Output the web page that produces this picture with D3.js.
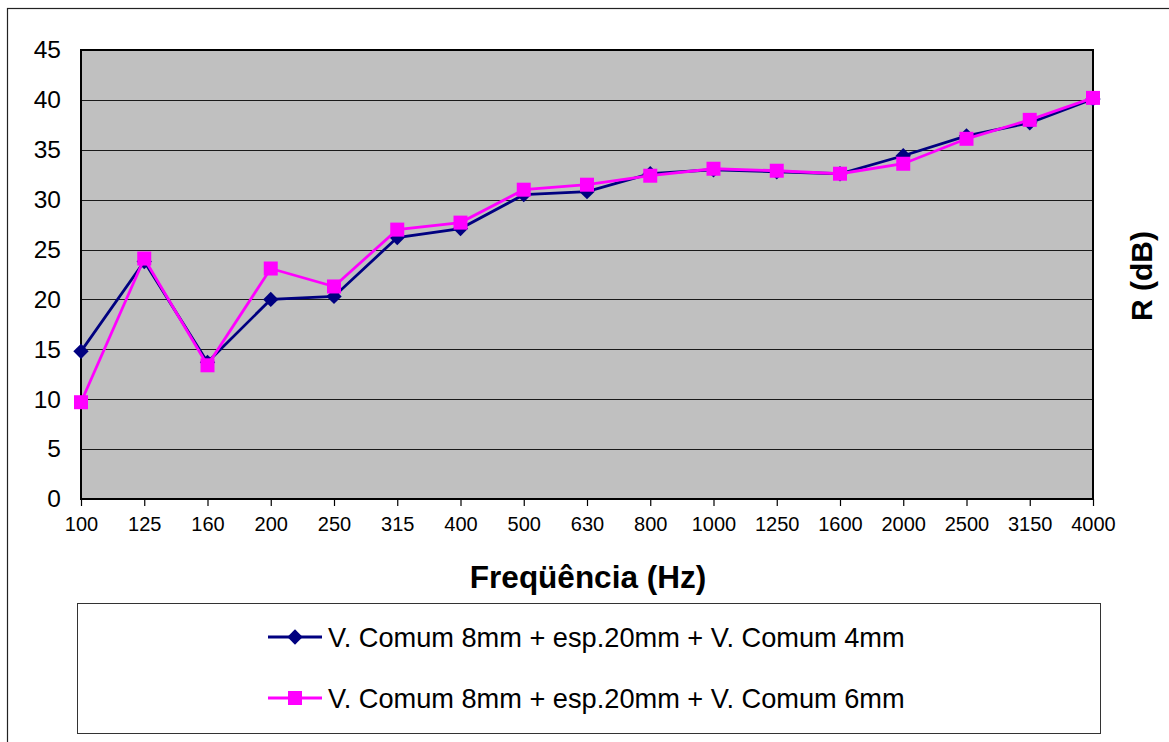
<!DOCTYPE html>
<html>
<head>
<meta charset="utf-8">
<script src="https://d3js.org/d3.v7.min.js"></script>
<style>
  body { margin: 0; background: #fff; }
  svg { display: block; font-family: "Liberation Sans", Arial, sans-serif; }
</style>
</head>
<body>
<div id="chart"></div>
<script>
  // frequency bands (Hz) and sound reduction index R (dB)
  var freqs = ["100", "125", "160", "200", "250", "315", "400", "500", "630",
               "800", "1000", "1250", "1600", "2000", "2500", "3150", "4000"];
  var vidro4mm = [14.8, 23.8, 13.7, 20.0, 20.3, 26.2, 27.1, 30.5, 30.8,
                  32.6, 33.0, 32.8, 32.6, 34.4, 36.4, 37.7, 40.1];
  var vidro6mm = [9.7, 24.1, 13.4, 23.1, 21.3, 27.0, 27.7, 31.0, 31.5,
                  32.4, 33.1, 32.9, 32.6, 33.6, 36.1, 38.0, 40.2];
  var yTicks = [0, 5, 10, 15, 20, 25, 30, 35, 40, 45];
  var seriesNames = ["V. Comum 8mm + esp.20mm + V. Comum 4mm",
                     "V. Comum 8mm + esp.20mm + V. Comum 6mm"];

  var W = 1169, H = 742;
  var plot = { left: 81, top: 50, right: 1093, bottom: 499 };

  var svg = d3.select("#chart").append("svg")
      .attr("width", W)
      .attr("height", H);

  // outer chart frame
  svg.append("rect")
      .attr("x", 7.5).attr("y", 8.5)
      .attr("width", W + 20).attr("height", H + 20)
      .attr("fill", "#fff")
      .attr("stroke", "#222")
      .attr("stroke-width", 1.2);

  var x = d3.scalePoint()
      .domain(freqs)
      .range([plot.left, plot.right])
      .padding(0);

  var y = d3.scaleLinear()
      .domain([0, 45])
      .range([plot.bottom, plot.top]);

  // plot area background
  svg.append("rect")
      .attr("x", plot.left).attr("y", plot.top)
      .attr("width", plot.right - plot.left)
      .attr("height", plot.bottom - plot.top)
      .attr("fill", "#c0c0c0");

  // horizontal gridlines
  svg.append("g")
    .selectAll("line")
    .data(yTicks.filter(function (d) { return d > 0 && d < 45; }))
    .enter().append("line")
      .attr("x1", plot.left).attr("x2", plot.right)
      .attr("y1", function (d) { return Math.round(y(d)) + 0.5; })
      .attr("y2", function (d) { return Math.round(y(d)) + 0.5; })
      .attr("stroke", "#1a1a1a")
      .attr("stroke-width", 1);

  // plot border
  svg.append("rect")
      .attr("x", plot.left).attr("y", plot.top)
      .attr("width", plot.right - plot.left)
      .attr("height", plot.bottom - plot.top)
      .attr("fill", "none")
      .attr("stroke", "#000")
      .attr("stroke-width", 2);

  // x axis ticks and labels
  var xAxis = svg.append("g")
      .attr("transform", "translate(0," + plot.bottom + ")")
      .call(d3.axisBottom(x).tickSize(7).tickPadding(11));
  xAxis.select(".domain").remove();
  xAxis.selectAll(".tick line").attr("stroke", "#000").attr("stroke-width", 1.2);
  xAxis.selectAll(".tick text")
      .attr("font-size", "20px")
      .attr("font-family", "Liberation Sans, Arial, sans-serif")
      .attr("fill", "#000");

  // y axis labels
  var yAxis = svg.append("g")
      .attr("transform", "translate(" + plot.left + ",0)")
      .call(d3.axisLeft(y).tickValues(yTicks).tickSize(0).tickPadding(20));
  yAxis.select(".domain").remove();
  yAxis.selectAll(".tick text")
      .attr("font-size", "24.5px")
      .attr("font-family", "Liberation Sans, Arial, sans-serif")
      .attr("fill", "#000");

  // axis titles
  svg.append("text")
      .attr("x", 588).attr("y", 588)
      .attr("text-anchor", "middle")
      .attr("font-size", "31.5px")
      .attr("font-weight", "bold")
      .text("Freqüência (Hz)");

  svg.append("text")
      .attr("transform", "translate(1152,276) rotate(-90)")
      .attr("text-anchor", "middle")
      .attr("font-size", "30px")
      .attr("font-weight", "bold")
      .text("R (dB)");

  var line = d3.line()
      .x(function (d, i) { return x(freqs[i]); })
      .y(function (d) { return y(d); });

  var diamond = d3.symbol().type(d3.symbolDiamond2).size(150);

  // series 1: navy with diamonds
  svg.append("path")
      .datum(vidro4mm)
      .attr("d", line)
      .attr("fill", "none")
      .attr("stroke", "#000080")
      .attr("stroke-width", 2.8);
  svg.append("g")
    .selectAll("path")
    .data(vidro4mm)
    .enter().append("path")
      .attr("d", diamond)
      .attr("transform", function (d, i) { return "translate(" + x(freqs[i]) + "," + y(d) + ")"; })
      .attr("fill", "#000080");

  // series 2: magenta with squares
  svg.append("path")
      .datum(vidro6mm)
      .attr("d", line)
      .attr("fill", "none")
      .attr("stroke", "#ff00ff")
      .attr("stroke-width", 2.8);
  svg.append("g")
    .selectAll("rect")
    .data(vidro6mm)
    .enter().append("rect")
      .attr("x", function (d, i) { return x(freqs[i]) - 7; })
      .attr("y", function (d) { return y(d) - 7; })
      .attr("width", 14).attr("height", 14)
      .attr("fill", "#ff00ff");

  // legend
  var legend = svg.append("g");
  legend.append("rect")
      .attr("x", 77.5).attr("y", 603.5)
      .attr("width", 1023).attr("height", 130)
      .attr("fill", "#fff")
      .attr("stroke", "#333")
      .attr("stroke-width", 1);

  var legendRows = [
    { name: seriesNames[0], color: "#000080", marker: "diamond", y: 637 },
    { name: seriesNames[1], color: "#ff00ff", marker: "square", y: 698 }
  ];

  legendRows.forEach(function (r) {
    legend.append("line")
        .attr("x1", 268).attr("x2", 322)
        .attr("y1", r.y).attr("y2", r.y)
        .attr("stroke", r.color)
        .attr("stroke-width", 2.8);
    if (r.marker === "diamond") {
      legend.append("path")
          .attr("d", diamond)
          .attr("transform", "translate(295," + r.y + ")")
          .attr("fill", r.color);
    } else {
      legend.append("rect")
          .attr("x", 288).attr("y", r.y - 7)
          .attr("width", 14).attr("height", 14)
          .attr("fill", r.color);
    }
    legend.append("text")
        .attr("x", 328).attr("y", r.y)
        .attr("dy", "0.36em")
        .attr("font-size", "27.2px")
        .text(r.name);
  });
</script>
</body>
</html>
